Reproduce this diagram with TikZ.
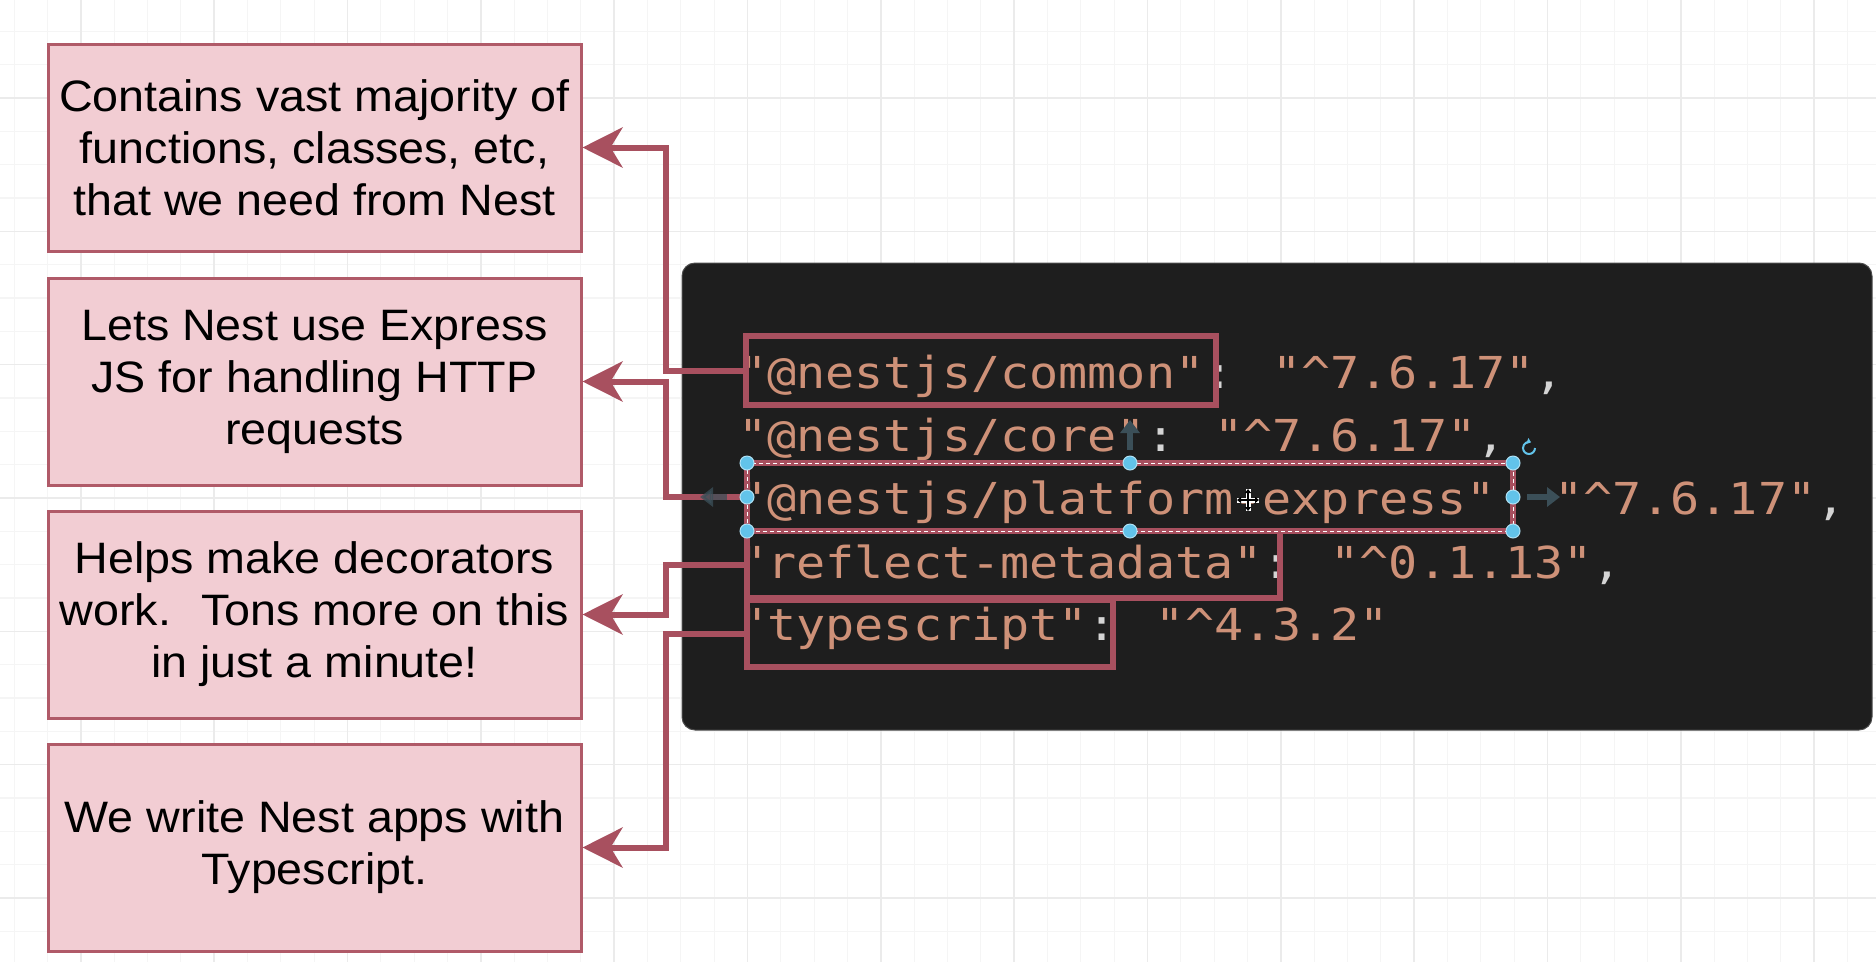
\documentclass[tikz,border=0pt]{standalone}
\usepackage{fontspec}
\setmainfont{Liberation Sans}[FakeStretch=1.06]
\newfontfamily\codefont{DejaVu Sans Mono}[FakeStretch=1.1]
\usetikzlibrary{arrows.meta}

\definecolor{notefill}{HTML}{F2CDD3}
\definecolor{notedraw}{HTML}{B05A68}
\definecolor{linkred}{HTML}{A8505F}
\definecolor{panelbg}{HTML}{1E1E1E}
\definecolor{codestr}{HTML}{CE9178}
\definecolor{codepunct}{HTML}{D4D4D4}
\definecolor{handleblue}{HTML}{62C3EA}
\definecolor{handlearrow}{HTML}{3B4F58}
\definecolor{gridminor}{HTML}{F5F5F5}
\definecolor{gridmajor}{HTML}{EBEBEB}

\newcommand{\spunct}[1]{\textcolor{codepunct}{#1}}
\newcommand{\caret}{\textasciicircum}

\begin{document}
\begin{tikzpicture}[
    x=1pt, y=-1pt,
    note/.style = {
        draw=notedraw,
        fill=notefill,
        line width=3pt,
        minimum width=533pt,
        minimum height=207pt,
        inner sep=0pt,
        align=center,
        font=\fontsize{44}{52}\selectfont
    },
    keybox/.style = {
        draw=linkred,
        line width=6pt,
        inner sep=0pt,
        outer sep=0pt
    },
    link/.style = {
        linkred,
        line width=6pt,
        -{Stealth[length=40pt,width=40pt,inset=12pt]}
    },
    code/.style = {
        anchor=base west,
        inner sep=0pt,
        text=codestr,
        font=\codefont\fontsize{44}{52}\selectfont
    },
    moveto/.style = {
        handlearrow,
        line width=6pt,
        -{Triangle[length=13pt,width=19pt]}
    }
]
    \useasboundingbox (0,0) rectangle (1876,962);

    % Grid of the canvas
    \foreach \k in {0,...,56}
        \draw[gridminor, line width=1.2pt] ({14.1+33.333*\k},0) -- ++(0,962);
    \foreach \k in {0,...,28}
        \draw[gridminor, line width=1.2pt] (0,{31.3+33.333*\k}) -- ++(1876,0);
    \foreach \k in {0,...,13}
        \draw[gridmajor, line width=1.4pt] ({80.8+133.333*\k},0) -- ++(0,962);
    \foreach \k in {0,...,6}
        \draw[gridmajor, line width=1.4pt] (0,{98+133.333*\k}) -- ++(1876,0);

    % Code panel
    \draw[draw=gray!60!black, fill=panelbg, line width=1pt, rounded corners=13pt]
        (682,263) rectangle (1872,730);

    \node[code] (ln1) at (738,388) {"@nestjs/common"\spunct{:} "\caret 7.6.17"\spunct{,}};
    \node[code] (ln2) at (738,451) {"@nestjs/core"\spunct{:} "\caret 7.6.17"\spunct{,}};
    \node[code] (ln3) at (738,514) {"@nestjs/platform-express"\phantom{:} "\caret 7.6.17"\spunct{,}};
    \node[code] (ln4) at (738,578) {"reflect-metadata"\spunct{:} "\caret 0.1.13"\spunct{,}};
    \node[code] (ln5) at (738,640) {"typescript"\spunct{:} "\caret 4.3.2"};

    % Highlighted keys
    \node[keybox, minimum width=470pt, minimum height=69pt] (hlcommon) at (981,370.5) {};
    \node[keybox, minimum width=533pt, minimum height=67pt] (hlreflect) at (1013.5,564.5) {};
    \node[keybox, minimum width=366pt, minimum height=67pt] (hltype) at (930,633.5) {};
    \node[keybox, minimum width=766pt, minimum height=68pt] (hlplatform) at (1130,497) {};

    % Notes
    \node[note] (note1) at (314.5,147.5) {Contains vast majority of\\functions, classes, etc,\\that we need from Nest};
    \node[note] (note2) at (314.5,381.5) {Lets Nest use Express\\JS for handling HTTP\\requests};
    \node[note] (note3) at (314.5,614.5) {Helps make decorators\\work.~ Tons more on this\\in just a minute!};
    \node[note] (note4) at (314.5,847.5) {We write Nest apps with\\Typescript.};

    \coordinate (bus) at (666,0);
    \draw[link] (hlcommon.west) -- (hlcommon.west -| bus) |- (note1.east);
    \draw[link] (hlplatform.west) -- (hlplatform.west -| bus) |- (note2.east);
    \draw[link] (hlreflect.west) -- (hlreflect.west -| bus) |- (note3.east);
    \draw[link] (hltype.west) -- (hltype.west -| bus) |- (note4.east);

    % Selection handles on the platform key
    \draw[white, line width=1pt, dash pattern=on 4pt off 3pt]
        (hlplatform.north west) rectangle (hlplatform.south east);
    \draw[moveto, opacity=.75] (hlplatform.west) ++(-20,0) -- ++(-27,0);
    \draw[moveto] (hlplatform.east) ++(14,0) -- ++(33,0);
    \draw[moveto] (hlplatform.north) ++(0,-13) -- ++(0,-30);
    \foreach \a in {north west, north, north east, west, east, south west, south, south east}
        \filldraw[fill=handleblue, draw=handleblue!50!white, line width=1pt] (hlplatform.\a) circle (7);
    \draw[handleblue, line width=2pt, -{Triangle[length=4pt,width=6pt]}]
        (hlplatform.north east) ++(22,-15) arc[start angle=0, end angle=290, radius=6];

    % Move cursor
    \draw[white, line width=5pt] (1237,500) -- (1259,500) (1248,489) -- (1248,511);
    \draw[black, line width=1.3pt, {Triangle[length=4pt,width=6pt]}-{Triangle[length=4pt,width=6pt]}]
        (1237,500) -- (1259,500);
    \draw[black, line width=1.3pt, {Triangle[length=4pt,width=6pt]}-{Triangle[length=4pt,width=6pt]}]
        (1248,489) -- (1248,511);
\end{tikzpicture}
\end{document}
